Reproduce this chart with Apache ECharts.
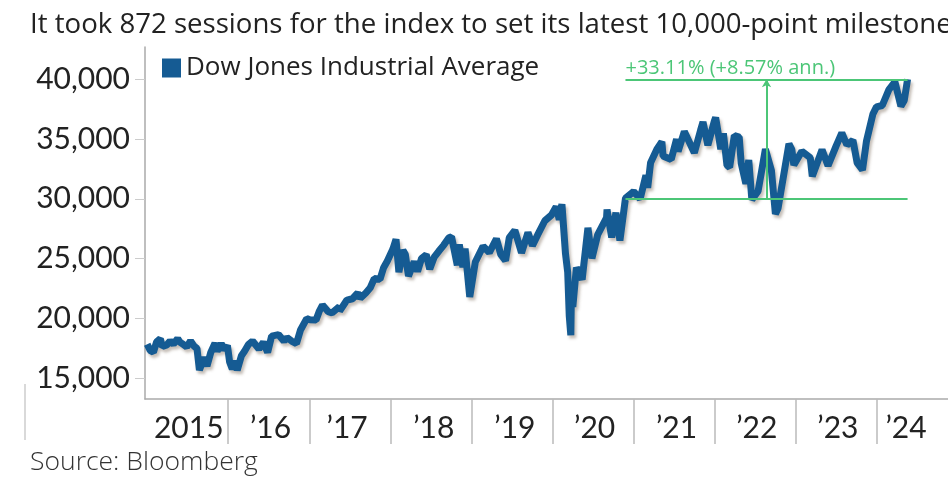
<!DOCTYPE html>
<html>
<head>
<meta charset="utf-8">
<script src="https://cdn.jsdelivr.net/npm/echarts@6/dist/echarts.min.js"></script>
<style>
  html, body { margin: 0; padding: 0; background: #fff; }
  #chart { width: 948px; height: 486px; }
</style>
</head>
<body>
<div id="chart"></div>
<script>
// Dow Jones Industrial Average (with turning points)
var dates = [
  '2015-01-02','2015-01-15','2015-01-30','2015-02-13','2015-03-02','2015-03-11','2015-03-31','2015-04-15','2015-04-30',
  '2015-05-19','2015-05-29','2015-06-15','2015-06-29','2015-07-16','2015-07-31','2015-08-14','2015-08-25','2015-09-16',
  '2015-09-28','2015-10-15','2015-11-03','2015-11-13','2015-12-01','2015-12-14','2015-12-29',
  '2016-01-08','2016-01-20','2016-02-01','2016-02-11','2016-03-01','2016-03-15','2016-04-01','2016-04-20','2016-05-19',
  '2016-06-08','2016-06-27','2016-07-15','2016-08-15','2016-09-09','2016-09-22','2016-10-13','2016-11-04','2016-11-22','2016-12-20',
  '2017-01-03','2017-01-31','2017-02-15','2017-03-01','2017-03-27','2017-04-13','2017-05-16','2017-05-17','2017-06-19',
  '2017-07-14','2017-08-07','2017-08-18','2017-09-12','2017-10-02','2017-10-20','2017-11-15','2017-12-01','2017-12-18',
  '2018-01-12','2018-01-26','2018-02-08','2018-02-26','2018-03-09','2018-03-23','2018-04-18','2018-05-03','2018-05-21',
  '2018-06-11','2018-06-27','2018-07-17','2018-08-07','2018-08-29','2018-09-21','2018-10-03','2018-10-29','2018-11-07',
  '2018-11-23','2018-12-03','2018-12-24',
  '2019-01-18','2019-02-22','2019-03-22','2019-04-23','2019-05-13','2019-06-03','2019-06-20','2019-07-15','2019-08-14',
  '2019-08-23','2019-09-12','2019-10-02','2019-10-25','2019-11-27','2019-12-27',
  '2020-01-17','2020-01-31','2020-02-12','2020-02-28','2020-03-09','2020-03-16','2020-03-23','2020-03-26','2020-04-01',
  '2020-04-17','2020-05-13','2020-06-08','2020-06-26','2020-07-22','2020-08-31','2020-09-02','2020-09-23','2020-10-12',
  '2020-10-30','2020-11-24','2020-12-31',
  '2021-01-29','2021-02-24','2021-03-04','2021-03-17','2021-04-16','2021-05-07','2021-05-12','2021-06-18','2021-07-12',
  '2021-07-19','2021-08-16','2021-09-30','2021-10-28','2021-11-08','2021-11-30','2021-12-29',
  '2022-01-04','2022-01-27','2022-02-08','2022-02-24','2022-03-08','2022-03-29','2022-04-20','2022-04-29','2022-05-20',
  '2022-06-02','2022-06-16','2022-07-14','2022-08-16','2022-09-12','2022-09-30','2022-10-12','2022-11-30','2022-12-13','2022-12-22',
  '2023-01-27','2023-02-03','2023-03-06','2023-03-15','2023-04-28','2023-05-25','2023-06-30','2023-07-26','2023-08-18',
  '2023-09-14','2023-10-03','2023-10-27','2023-11-14','2023-12-13','2023-12-29',
  '2024-01-24','2024-02-23','2024-03-21','2024-04-17','2024-05-02','2024-05-17'
];
var values = [
  17833,17320,17165,18019,18288,17635,17776,18112,17841,
  18312,18011,17792,17596,18120,17690,17477,15666,16739,
  16001,17141,17918,17245,17888,17369,17720,
  16346,15766,16449,15660,16865,17251,17792,18096,17435,
  18005,17140,18516,18636,18085,18392,18098,17888,19023,19974,
  19881,19864,20611,21115,20550,20453,20980,20606,21528,
  21638,22118,21674,22118,22557,23329,23271,24231,24792,
  25803,26617,23860,25710,25336,23533,24748,23930,25013,
  25322,24117,25120,25629,26125,26744,26828,24443,26181,
  24286,25827,21792,
  24706,26031,25503,26656,25324,24820,26753,27359,25479,
  25628,27182,26078,26958,28164,28645,
  29348,28256,29551,25409,23851,20188,18592,22552,20943,
  24242,23247,27572,25016,27005,28430,29100,26763,28837,
  26502,30046,30606,
  29983,31962,30924,33015,34200,34778,33587,33290,34996,
  33962,35625,33844,35730,36432,34484,36488,
  36800,34160,35463,32800,32632,35294,35161,32977,31262,
  33248,29927,30630,34152,32381,28726,29210,34590,34109,32832,
  33978,33926,33431,31875,34098,32765,34408,35520,34500,
  34907,33002,32418,34828,37090,37690,
  37807,39131,39781,37753,38225,40003
];

// 30,000 -> 40,000 milestone
var milestoneStart = '2020-11-24';
var milestoneEnd = '2024-05-17';
var milestoneLevels = [30000, 40000];
var milestoneLabel = '+33.11% (+8.57% ann.)';

var yTicks = [15000, 20000, 25000, 30000, 35000, 40000];
var yearStarts = ['2016-01-01','2017-01-01','2018-01-01','2019-01-01','2020-01-01','2021-01-01','2022-01-01','2023-01-01','2024-01-01'];
var yearLabelDates = ['2015-07-08','2016-07-10','2017-06-20','2018-07-15','2019-07-15','2020-07-08','2021-07-12','2022-07-08','2023-07-08','2024-05-10'];

var FONT = 'Lato';
var TEXT_FONT = 'Open Sans';
var GREEN = '#4cc677';
var BLUE = '#155b93';

function ts(d) { return Date.parse(d + 'T00:00:00Z'); }

var seriesData = dates.map(function (d, i) { return [ts(d), values[i]]; });
var t0 = ts(milestoneStart), t1 = ts(milestoneEnd);
var tMid = (t0 + t1) / 2;

var chart = echarts.init(document.getElementById('chart'));
chart.setOption({
  animation: false,
  textStyle: { fontFamily: FONT },
  title: [
    {
      text: 'It took 872 sessions for the index to set its latest 10,000-point milestone',
      left: 25, top: 6,
      textStyle: { fontFamily: TEXT_FONT, fontSize: 27.6, fontWeight: 'normal', color: '#222' }
    },
    {
      text: 'Source: Bloomberg',
      left: 25, top: 444,
      textStyle: { fontFamily: TEXT_FONT, fontSize: 26.5, fontWeight: 300, color: '#333' }
    }
  ],
  legend: {
    left: 157, top: 50,
    icon: 'rect', itemWidth: 19, itemHeight: 19,
    textStyle: { fontFamily: TEXT_FONT, fontSize: 26, color: '#222' },
    data: ['Dow Jones Industrial Average']
  },
  grid: { left: 145, right: 0, top: 47, bottom: 87 },
  xAxis: {
    type: 'value',
    min: ts('2014-12-23'), max: ts('2024-11-15'),
    axisLine: { lineStyle: { color: '#aaa', width: 1.5 } },
    axisTick: {
      customValues: yearStarts.map(ts),
      length: 45,
      lineStyle: { color: '#bbb', width: 1.5 }
    },
    axisLabel: {
      customValues: yearLabelDates.map(ts),
      margin: 14,
      fontFamily: FONT, fontSize: 30, color: '#222',
      formatter: function (v) {
        var y = new Date(v).getUTCFullYear();
        return y === 2015 ? '2015' : '\u2019' + String(y).slice(2);
      }
    },
    splitLine: { show: false }
  },
  yAxis: {
    type: 'value',
    min: 13250, max: 42700,
    axisLine: { show: true, lineStyle: { color: '#aaa', width: 1.5 } },
    axisTick: { show: true, customValues: yTicks, length: 10, lineStyle: { color: '#ccc' } },
    axisLabel: {
      customValues: yTicks,
      margin: 15,
      fontFamily: FONT, fontSize: 30, color: '#222',
      formatter: function (v) { return v.toLocaleString('en-US'); }
    },
    splitLine: { show: false }
  },
  series: [
    {
      name: 'milestone',
      type: 'line',
      z: 1,
      data: [],
      markLine: {
        silent: true,
        symbol: ['none', 'none'],
        lineStyle: { color: GREEN, width: 2, type: 'solid' },
        label: { show: false },
        data: [
          [{ coord: [t0, milestoneLevels[1]] }, { coord: [t1, milestoneLevels[1]],
            label: { show: true, position: 'insideStartTop', formatter: milestoneLabel,
              color: GREEN, fontFamily: TEXT_FONT, fontSize: 20, distance: [0, 1] } }],
          [{ coord: [t0, milestoneLevels[0]] }, { coord: [t1, milestoneLevels[0]] }],
          [{ coord: [tMid, milestoneLevels[0]], symbol: 'none' },
           { coord: [tMid, milestoneLevels[1]], symbol: 'arrow', symbolSize: [7, 8] }]
        ]
      }
    },
    {
      name: 'Dow Jones Industrial Average',
      type: 'line',
      z: 3,
      showSymbol: false,
      data: seriesData,
      itemStyle: { color: BLUE },
      lineStyle: {
        color: BLUE, width: 7,
        shadowColor: 'rgba(90,70,50,0.35)', shadowBlur: 3, shadowOffsetX: 2, shadowOffsetY: 3
      }
    }
  ],
  graphic: [
    { type: 'line', silent: true, shape: { x1: 25, y1: 384, x2: 25, y2: 440 },
      style: { stroke: '#ccc', lineWidth: 1.5 } }
  ]
});
</script>
</body>
</html>
